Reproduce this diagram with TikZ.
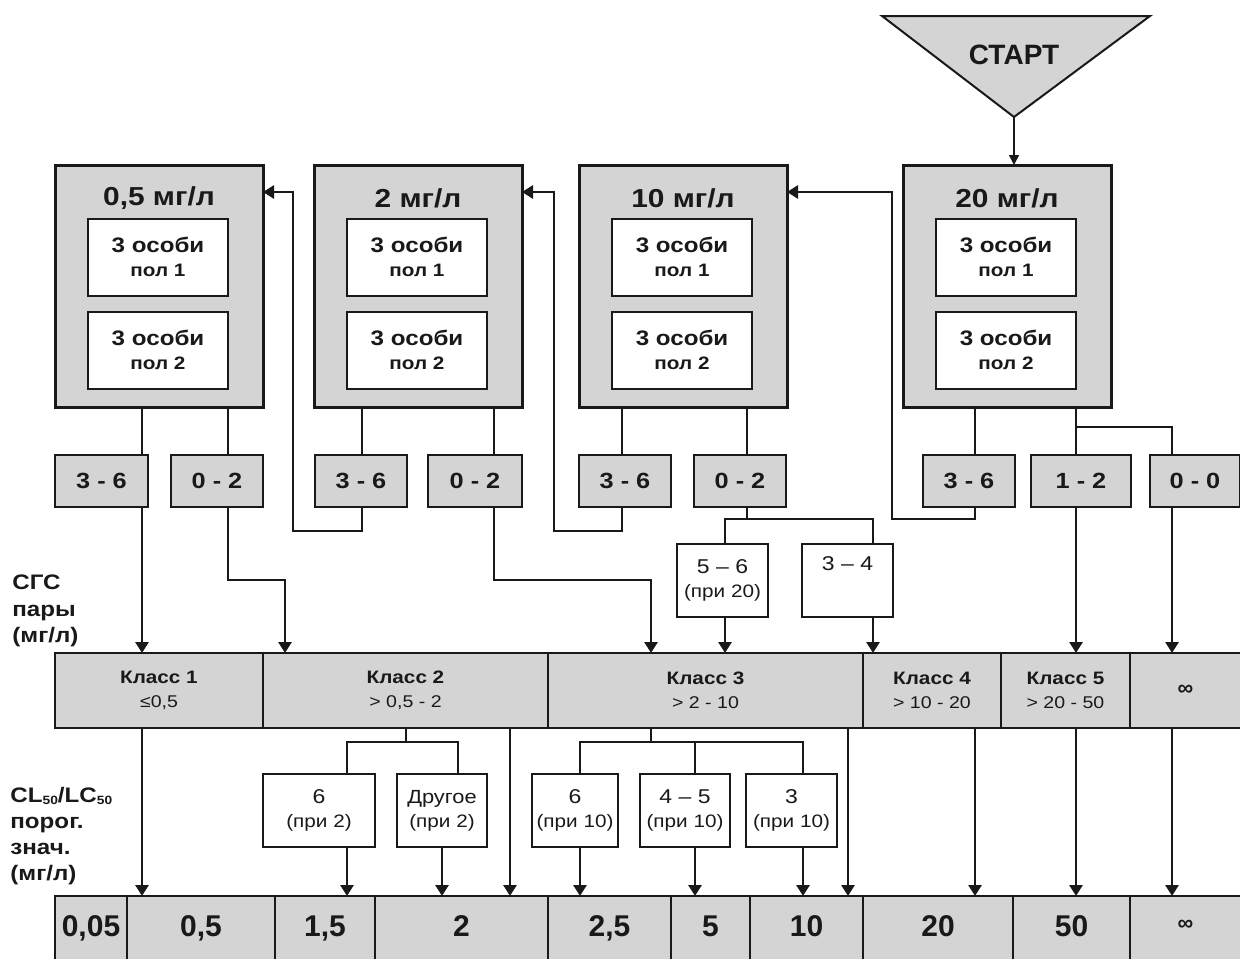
\documentclass[tikz,border=0pt]{standalone}
\usepackage{fontspec}
\setmainfont{Liberation Sans}[FakeStretch=1.15]
\newfontfamily\plainfont{Liberation Sans}
\usetikzlibrary{arrows.meta}
\definecolor{boxgray}{RGB}{212,212,212}
\definecolor{ink}{RGB}{25,25,25}
\begin{document}
\begin{tikzpicture}[x=0.5pt,y=-0.5pt,
  every node/.style={text=ink},
  bigbox/.style={draw=ink,line width=1.5pt,fill=boxgray,inner sep=0pt,outer sep=0pt,minimum width=104pt,minimum height=121pt},
  inbox/.style={draw=ink,line width=1pt,fill=white,inner sep=0pt,outer sep=0pt,minimum width=70pt,minimum height=38.5pt,align=center,font=\bfseries},
  ttl/.style={font=\bfseries\fontsize{13}{15}\selectfont},
  bin/.style={draw=ink,line width=1.4pt,fill=boxgray,inner sep=0pt,outer sep=0pt,minimum height=26pt,font=\bfseries\fontsize{11}{13}\selectfont},
  wbox/.style={draw=ink,line width=1.2pt,fill=white,inner sep=0pt,outer sep=0pt,minimum height=36.5pt,align=center},
  cls/.style={draw=ink,line width=1.4pt,fill=boxgray,inner sep=0pt,outer sep=0pt,minimum height=37.5pt,align=center},
  val/.style={draw=ink,line width=1.4pt,fill=boxgray,inner sep=0pt,outer sep=0pt,minimum height=33pt},
  vtxt/.style={anchor=base,inner sep=0pt,font=\plainfont\bfseries\fontsize{15}{17}\selectfont},
  side/.style={align=left,anchor=west,inner sep=0pt,font=\bfseries\fontsize{10.5}{13.2}\selectfont},
  conn/.style={draw=ink,line width=1.4pt},
  arr/.style={conn,-{Triangle[width=6.5pt,length=5.5pt]}},
  thinarr/.style={draw=ink,line width=0.7pt,-{Triangle[width=5pt,length=5pt]}}
]
\useasboundingbox (0,0) rectangle (1240,958);
\foreach \c in {142,228,285,347,362,406,442,458,494,510,580,622,651,695,725,747,803,848,873,975,1076,1172}
  {\coordinate (X\c) at (\c,0);}
\coordinate (Y192) at (0,192);

% START
\draw[draw=ink,fill=boxgray,line width=1pt] (882,16) -- (1150,16) -- (1014,117) -- cycle;
\node[font=\plainfont\bfseries\fontsize{14}{16}\selectfont] (start) at (1014,55) {СТАРТ};
\coordinate (apex) at (1014,117);

% big boxes
\node[bigbox] (box1) at (159,286) {};
\node[bigbox] (box2) at (418,286) {};
\node[bigbox] (box3) at (683,286) {};
\node[bigbox] (box4) at (1007,286) {};
\node[ttl] (t1) at (159,198) {0,5 мг/л};
\node[ttl] (t2) at (418,198) {2 мг/л};
\node[ttl] (t3) at (683,198) {10 мг/л};
\node[ttl] (t4) at (1007,198) {20 мг/л};
\foreach \n/\x in {1/158,2/417,3/682,4/1006}{
  \node[inbox] (i\n a) at (\x,257) {\fontsize{10.5}{13.5}\selectfont 3 особи\\\fontsize{9}{13.5}\selectfont пол 1};
  \node[inbox] (i\n b) at (\x,350) {\fontsize{10.5}{13.5}\selectfont 3 особи\\\fontsize{9}{13.5}\selectfont пол 2};
}
\draw[thinarr] (apex) -- (apex |- box4.north);

% bins
\node[bin,minimum width=46.5pt] (b1a) at (101.5,481) {3 - 6};
\node[bin,minimum width=46pt] (b1b) at (217,481) {0 - 2};
\node[bin,minimum width=46pt] (b2a) at (361,481) {3 - 6};
\node[bin,minimum width=47pt] (b2b) at (475,481) {0 - 2};
\node[bin,minimum width=46pt] (b3a) at (625,481) {3 - 6};
\node[bin,minimum width=46pt] (b3b) at (740,481) {0 - 2};
\node[bin,minimum width=46pt] (b4a) at (969,481) {3 - 6};
\node[bin,minimum width=50pt] (b4b) at (1081,481) {1 - 2};
\node[bin,minimum width=45pt] (b4c) at (1195,481) {0 - 0};

% white boxes upper
\node[wbox,minimum width=45.5pt] (w56) at (722.5,580.5) {\fontsize{10}{14.5}\selectfont 5 – 6\\\fontsize{9}{14.5}\selectfont (при 20)};
\node[wbox,minimum width=45.5pt] (w34) at (847.5,580.5) {\fontsize{10}{15.5}\selectfont 3 – 4\\\fontsize{9}{15.5}\selectfont\strut};

% class bar
\node[cls,minimum width=104pt] (k1) at (159,690.5) {\bfseries\fontsize{9}{13}\selectfont Класс 1\\\fontsize{8.5}{13}\selectfont ≤0,5};
\node[cls,minimum width=142.5pt] (k2) at (405.5,690.5) {\bfseries\fontsize{9}{13}\selectfont Класс 2\\\fontsize{8.5}{13}\selectfont > 0,5 - 2};
\node[cls,minimum width=157.5pt] (k3) at (705.5,690.5) {\bfseries\fontsize{9}{13}\selectfont Класс 3\\\fontsize{8.5}{13}\selectfont > 2 - 10};
\node[cls,minimum width=69pt] (k4) at (932,690.5) {\bfseries\fontsize{9}{13}\selectfont Класс 4\\\fontsize{8.5}{13}\selectfont > 10 - 20};
\node[cls,minimum width=64.5pt] (k5) at (1065.5,690.5) {\bfseries\fontsize{9}{13}\selectfont Класс 5\\\fontsize{8.5}{13}\selectfont > 20 - 50};
\node[cls,minimum width=55.5pt] (k6) at (1185.5,690.5) {\plainfont\bfseries\fontsize{11}{13}\selectfont ∞};

% white boxes lower
\node[wbox,minimum width=56pt] (w6a) at (319,810.5) {\fontsize{10}{12}\selectfont 6\\\fontsize{9}{12}\selectfont (при 2)};
\node[wbox,minimum width=45pt] (wdr) at (442,810.5) {\fontsize{9.5}{12}\selectfont Другое\\\fontsize{9}{12}\selectfont (при 2)};
\node[wbox,minimum width=43pt] (w6b) at (575,810.5) {\fontsize{10}{12}\selectfont 6\\\fontsize{9}{12}\selectfont (при 10)};
\node[wbox,minimum width=45pt] (w45) at (685,810.5) {\fontsize{10}{12}\selectfont 4 – 5\\\fontsize{9}{12}\selectfont (при 10)};
\node[wbox,minimum width=45.5pt] (w3) at (791.5,810.5) {\fontsize{10}{12}\selectfont 3\\\fontsize{9}{12}\selectfont (при 10)};

% value bar
\node[val,minimum width=36pt] (v1) at (91,929) {};
\node[val,minimum width=74pt] (v2) at (201,929) {};
\node[val,minimum width=50pt] (v3) at (325,929) {};
\node[val,minimum width=86.5pt] (v4) at (461.5,929) {};
\node[val,minimum width=61.5pt] (v5) at (609.5,929) {};
\node[val,minimum width=39.5pt] (v6) at (710.5,929) {};
\node[val,minimum width=56.5pt] (v7) at (806.5,929) {};
\node[val,minimum width=75pt] (v8) at (938,929) {};
\node[val,minimum width=58.5pt] (v9) at (1071.5,929) {};
\node[val,minimum width=55.5pt] (v10) at (1185.5,929) {};
\node[vtxt] at ([yshift=-3.5pt]v1.center) {0,05};
\node[vtxt] at ([yshift=-3.5pt]v2.center) {0,5};
\node[vtxt] at ([yshift=-3.5pt]v3.center) {1,5};
\node[vtxt] at ([yshift=-3.5pt]v4.center) {2};
\node[vtxt] at ([yshift=-3.5pt]v5.center) {2,5};
\node[vtxt] at ([yshift=-3.5pt]v6.center) {5};
\node[vtxt] at ([yshift=-3.5pt]v7.center) {10};
\node[vtxt] at ([yshift=-3.5pt]v8.center) {20};
\node[vtxt] at ([yshift=-3.5pt]v9.center) {50};
\node[font=\plainfont\bfseries\fontsize{11}{13}\selectfont] at ([yshift=2pt]v10.center) {∞};

% side labels
\node[side] (lab1) at (12,611) {СГС\\пары\\(мг/л)};
\node[side,font=\bfseries\fontsize{10.5}{12.9}\selectfont] (lab2) at (10,836) {CL{\fontsize{6}{6}\selectfont\raisebox{-1pt}{50}}/LC{\fontsize{6}{6}\selectfont\raisebox{-1pt}{50}}\\порог.\\знач.\\(мг/л)};

% boxes -> bins
\draw[conn] (box1.south -| X142) -- (b1a.north -| X142);
\draw[conn] (box1.south -| X228) -- (b1b.north -| X228);
\draw[conn] (box2.south -| X362) -- (b2a.north -| X362);
\draw[conn] (box2.south -| X494) -- (b2b.north -| X494);
\draw[conn] (box3.south -| X622) -- (b3a.north -| X622);
\draw[conn] (box3.south -| X747) -- (b3b.north -| X747);
\draw[conn] (box4.south -| X975) -- (b4a.north -| X975);
\draw[conn] (box4.south -| X1076) -- (b4b.north -| X1076);
\draw[conn] (1076,427) -| (b4c.north -| X1172);

% feedback loops
\draw[arr] (b2a.south -| X362) -- (362,531) -- (293,531) -- (293,192) -- (box1.east |- Y192);
\draw[arr] (b3a.south -| X622) -- (622,531) -- (554,531) -- (554,192) -- (box2.east |- Y192);
\draw[arr] (b4a.south -| X975) -- (975,519) -- (892,519) -- (892,192) -- (box3.east |- Y192);

% bins -> classes
\draw[arr] (b1a.south -| X142) -- (k1.north -| X142);
\draw[arr] (b1b.south -| X228) -- (228,580) -- (285,580) -- (k2.north -| X285);
\draw[arr] (b2b.south -| X494) -- (494,580) -- (651,580) -- (k3.north -| X651);
\draw[conn] (b3b.south -| X747) -- (747,519);
\draw[conn] (w56.north -| X725) |- (873,519) -- (w34.north -| X873);
\draw[arr] (w56.south -| X725) -- (k3.north -| X725);
\draw[arr] (w34.south -| X873) -- (k4.north -| X873);
\draw[arr] (b4b.south -| X1076) -- (k5.north -| X1076);
\draw[arr] (b4c.south -| X1172) -- (k6.north -| X1172);

% classes -> values
\draw[arr] (k1.south -| X142) -- (v2.north -| X142);
\draw[conn] (k2.south -| X406) -- (406,742);
\draw[conn] (w6a.north -| X347) |- (458,742) -- (wdr.north -| X458);
\draw[arr] (w6a.south -| X347) -- (v3.north -| X347);
\draw[arr] (wdr.south -| X442) -- (v4.north -| X442);
\draw[arr] (k2.south -| X510) -- (v4.north -| X510);
\draw[conn] (k3.south -| X651) -- (651,742);
\draw[conn] (w6b.north -| X580) |- (803,742) -- (w3.north -| X803);
\draw[conn] (695,742) -- (w45.north -| X695);
\draw[arr] (w6b.south -| X580) -- (v5.north -| X580);
\draw[arr] (w45.south -| X695) -- (v6.north -| X695);
\draw[arr] (w3.south -| X803) -- (v7.north -| X803);
\draw[arr] (k3.south -| X848) -- (v7.north -| X848);
\draw[arr] (k4.south -| X975) -- (v8.north -| X975);
\draw[arr] (k5.south -| X1076) -- (v9.north -| X1076);
\draw[arr] (k6.south -| X1172) -- (v10.north -| X1172);
\end{tikzpicture}
\end{document}
